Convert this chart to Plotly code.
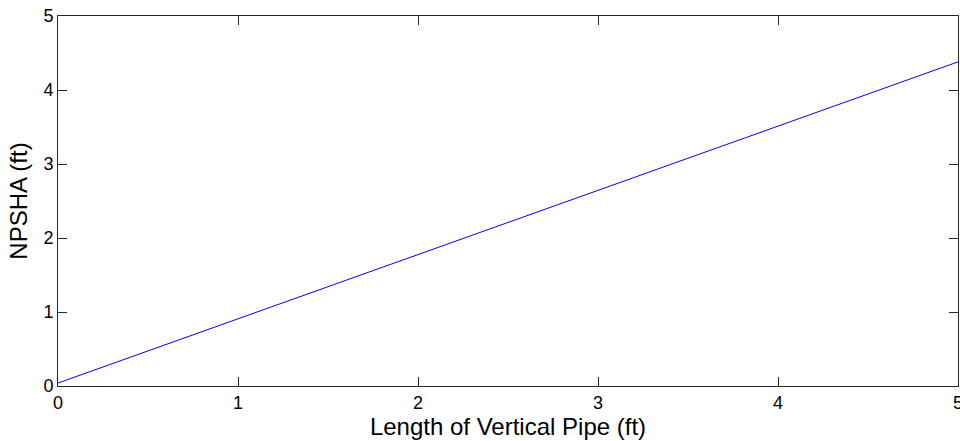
import plotly.graph_objects as go

# Available NPSH versus length of vertical suction pipe
pipe_length_ft = [0, 1, 2, 3, 4, 5]
npsha_ft = [0.04, 0.91, 1.78, 2.64, 3.51, 4.38]
tick_vals = [0, 1, 2, 3, 4, 5]

FONT = "Liberation Sans, Arial"

fig = go.Figure()
fig.add_trace(go.Scatter(
    x=pipe_length_ft, y=npsha_ft, mode="lines",
    line=dict(color="#0000ff", width=1),
    showlegend=False,
))

axis_common = dict(
    showgrid=False, zeroline=False,
    showline=True, linecolor="#262626", linewidth=1, mirror="allticks",
    ticks="inside", ticklen=9, tickcolor="#262626", tickwidth=1,
    tickvals=tick_vals, ticktext=[str(v) for v in tick_vals],
    tickfont=dict(family=FONT, size=18, color="#000000"),
    ticklabeloverflow="allow",
    automargin=False,
)

fig.update_xaxes(
    range=[0, 5], title=dict(text="Length of Vertical Pipe (ft)", standoff=2,
                             font=dict(family=FONT, size=24, color="#000000")),
    **axis_common,
)
fig.update_yaxes(
    range=[0, 5], title=dict(text="NPSHA (ft)", standoff=8,
                             font=dict(family=FONT, size=24, color="#000000")),
    **axis_common,
)

fig.update_layout(
    width=960, height=441,
    margin=dict(l=58, r=2, t=16, b=55),
    plot_bgcolor="white", paper_bgcolor="white",
)

fig.write_html("out.html")
